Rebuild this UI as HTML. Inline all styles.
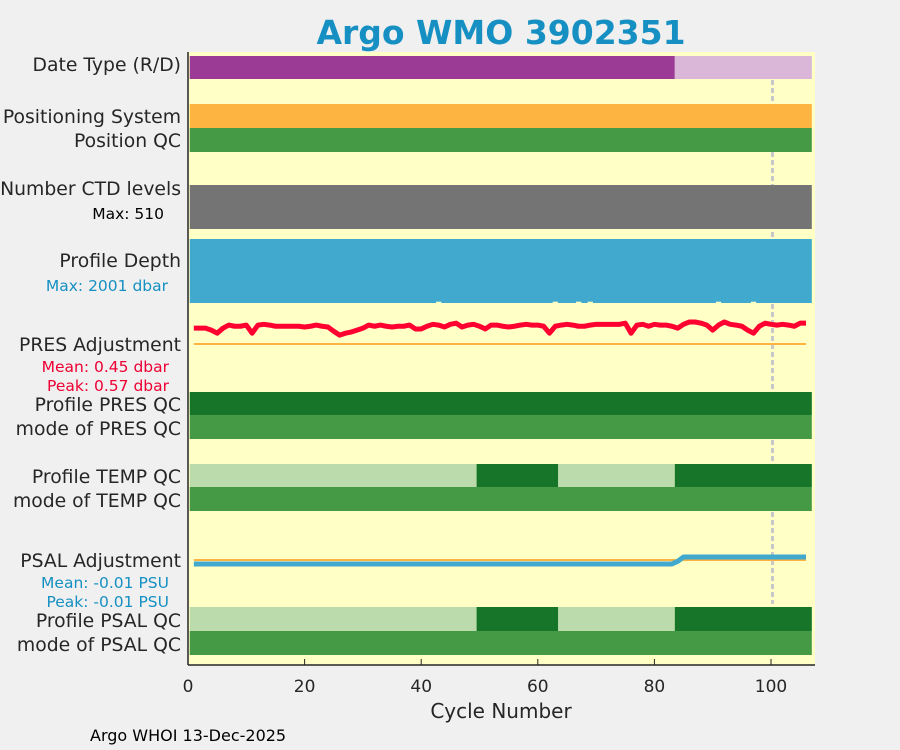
<!DOCTYPE html>
<html><head><meta charset="utf-8"><style>
body{margin:0;background:#f0f0f0;}
svg{display:block;font-family:"DejaVu Sans","Liberation Sans",sans-serif;}
</style></head><body>
<svg id="c" width="900" height="750" viewBox="0 0 900 750">
<rect x="0" y="0" width="900" height="750" fill="#f0f0f0"/>
<text x="501" y="44" text-anchor="middle" font-size="33" font-weight="bold" fill="#1690c2">Argo WMO 3902351</text>
<rect x="188" y="52" width="627" height="613" fill="#ffffc6"/>
<g id="bars"></g>
<line x1="188" y1="52" x2="188" y2="665" stroke="#262626" stroke-width="1.5"/>
<line x1="188" y1="665" x2="815" y2="665" stroke="#262626" stroke-width="1.5"/>
<g id="ticks"></g>
<text x="501" y="718" text-anchor="middle" font-size="20" fill="#262626">Cycle Number</text>
<g font-size="18.8" fill="#262626" text-anchor="end">
<text x="181" y="71">Date Type (R/D)</text>
<text x="181" y="123">Positioning System</text>
<text x="181" y="147">Position QC</text>
<text x="181" y="195">Number CTD levels</text>
<text x="181" y="267">Profile Depth</text>
<text x="181" y="351">PRES Adjustment</text>
<text x="181" y="411">Profile PRES QC</text>
<text x="181" y="435">mode of PRES QC</text>
<text x="181" y="483">Profile TEMP QC</text>
<text x="181" y="507">mode of TEMP QC</text>
<text x="181" y="567">PSAL Adjustment</text>
<text x="181" y="627">Profile PSAL QC</text>
<text x="181" y="651">mode of PSAL QC</text>
</g>
<g font-size="15.5" text-anchor="end">
<text x="164" y="219" fill="#000">Max: 510</text>
<text x="168" y="291" fill="#1690c2">Max: 2001 dbar</text>
<text x="169" y="372" fill="#ee0033">Mean: 0.45 dbar</text>
<text x="169" y="391" fill="#ee0033">Peak: 0.57 dbar</text>
<text x="169" y="588" fill="#1690c2">Mean: -0.01 PSU</text>
<text x="169" y="607" fill="#1690c2">Peak: -0.01 PSU</text>
</g>
<text x="90" y="741" font-size="16" fill="#000">Argo WHOI 13-Dec-2025</text>
</svg>
<script>
const xTicks=[0,20,40,60,80,100];
const presAdj=[0.41,0.41,0.41,0.36,0.28,0.41,0.49,0.46,0.46,0.49,0.28,0.49,0.51,0.49,0.46,0.46,0.46,0.46,0.46,0.44,0.46,0.49,0.46,0.44,0.33,0.23,0.28,0.31,0.36,0.41,0.49,0.46,0.49,0.46,0.44,0.46,0.46,0.49,0.39,0.39,0.46,0.51,0.49,0.44,0.51,0.54,0.44,0.49,0.51,0.46,0.39,0.49,0.49,0.46,0.44,0.46,0.49,0.51,0.49,0.49,0.46,0.28,0.46,0.49,0.51,0.49,0.46,0.46,0.49,0.51,0.51,0.51,0.51,0.51,0.54,0.28,0.49,0.51,0.46,0.51,0.49,0.49,0.46,0.41,0.51,0.57,0.57,0.54,0.49,0.36,0.49,0.57,0.51,0.49,0.46,0.36,0.28,0.46,0.54,0.51,0.49,0.51,0.49,0.46,0.54,0.54];
const psalAdj=[];for(let c=1;c<=106;c++){psalAdj.push(c<=83?-0.012:(c==84?-0.004:0.009));}
const shallowCycles=[43,63,67,69,91,97];
const depthMax=2001;
const depths=[];for(let c=1;c<=106;c++){depths.push(shallowCycles.includes(c)?1960:2001);}
const dateSegments=[[0.3,83.5,"#9b3b96"],[83.5,107,"#dab7d8"]];
const qcSegments=[[0.3,49.5,"#bcdbad"],[49.5,63.5,"#167528"],[63.5,83.5,"#bcdbad"],[83.5,107,"#167528"]];
const NS="http://www.w3.org/2000/svg";
function X(c){return 188+c*5.83;}
const bars=document.getElementById('bars');
function rect(x1,x2,y,h,fill,name){const r=document.createElementNS(NS,'rect');r.setAttribute('x',x1);r.setAttribute('y',y);r.setAttribute('width',x2-x1);r.setAttribute('height',h);r.setAttribute('fill',fill);


bars.appendChild(r);return r;}
const dl=document.createElementNS(NS,'line');dl.setAttribute('x1',X(100)+1.5);dl.setAttribute('x2',X(100)+1.5);dl.setAttribute('y1',56);dl.setAttribute('y2',604);dl.setAttribute('stroke','#c8c8c8');dl.setAttribute('stroke-width','3');dl.setAttribute('stroke-dasharray','5 3');


bars.appendChild(dl);
dateSegments.forEach(s=>rect(X(s[0]),X(s[1]),56,23,s[2],'date-type-bar'));
rect(X(0.3),X(107),104,24,'#fdb441','positioning-system-bar');
rect(X(0.3),X(107),128,24,'#459a46','position-qc-bar');
rect(X(0.3),X(107),185,44,'#747474','ctd-levels-bar');
depths.forEach((d,i)=>{const c=i+1;const h=64*d/depthMax;rect(X(c-0.5)-0.3,X(c+0.5)+0.3,239,h,'#42a9ce','depth-bar');});
rect(X(106.5),X(107),239,64,'#42a9ce','depth-bar');
rect(X(0.3),X(0.5),239,64,'#42a9ce','depth-bar');
rect(X(0.3),X(107),392,23,'#167528','pres-qc-bar');
rect(X(0.3),X(107),415,24,'#459a46','pres-qc-mode-bar');
qcSegments.forEach(s=>rect(X(s[0]),X(s[1]),464,23,s[2],'temp-qc-bar'));
rect(X(0.3),X(107),487,24,'#459a46','temp-qc-mode-bar');
qcSegments.forEach(s=>rect(X(s[0]),X(s[1]),607,24,s[2],'psal-qc-bar'));
rect(X(0.3),X(107),631,24,'#459a46','psal-qc-mode-bar');
function line(y,name){const l=document.createElementNS(NS,'line');l.setAttribute('x1',X(1));l.setAttribute('x2',X(106));l.setAttribute('y1',y);l.setAttribute('y2',y);l.setAttribute('stroke','#fdb441');l.setAttribute('stroke-width','2');


bars.appendChild(l);}
function poly(vals,y0,sc,color,w,name){const p=document.createElementNS(NS,'polyline');p.setAttribute('points',vals.map((v,i)=>X(i+1)+','+(y0-v*sc)).join(' '));p.setAttribute('fill','none');p.setAttribute('stroke',color);p.setAttribute('stroke-width',w);p.setAttribute('stroke-linejoin','round');


bars.appendChild(p);}
line(344,'pres-zero-line');
poly(presAdj,344,38.6,'#ff0030',5,'pres-adjustment-line');
line(560,'psal-zero-line');
poly(psalAdj,560,330,'#42a9ce',5,'psal-adjustment-line');
const tg=document.getElementById('ticks');
xTicks.forEach(t=>{const l=document.createElementNS(NS,'line');l.setAttribute('x1',X(t));l.setAttribute('x2',X(t));l.setAttribute('y1',659);l.setAttribute('y2',665);l.setAttribute('stroke','#262626');


tg.appendChild(l);
const tx=document.createElementNS(NS,'text');tx.setAttribute('x',X(t));tx.setAttribute('y',692);tx.setAttribute('text-anchor','middle');tx.setAttribute('font-size','17');tx.setAttribute('fill','#262626');tx.textContent=t;


tg.appendChild(tx);});
</script>
</body></html>
